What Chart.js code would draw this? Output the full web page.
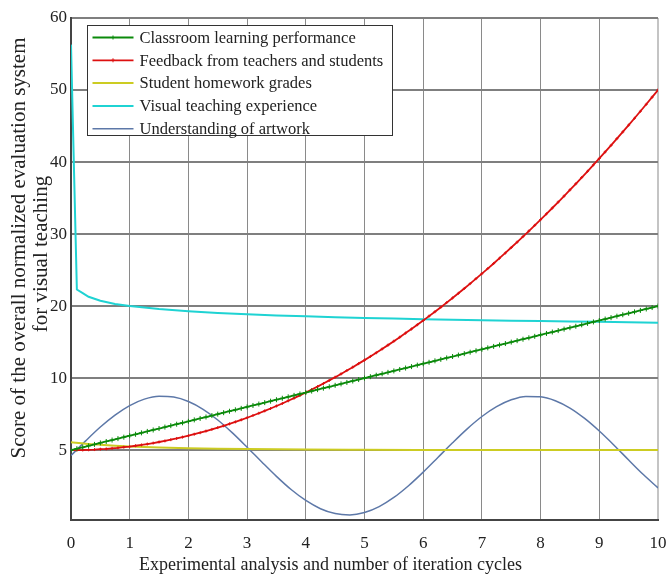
<!DOCTYPE html>
<html><head><meta charset="utf-8">
<script src="https://cdn.jsdelivr.net/npm/chart.js@4/dist/chart.umd.min.js"></script>
<style>html,body{margin:0;padding:0;background:#fff}#wrap{width:669px;height:578px}</style>
</head><body><div id="wrap"><canvas id="c" width="669" height="578"></canvas></div>
<script>
// ---- data ----
const xFine = [0,0.1,0.2,0.3,0.4,0.5,0.6,0.7,0.8,0.9,1,1.1,1.2,1.3,1.4,1.5,1.6,1.7,1.8,1.9,2,2.1,2.2,2.3,2.4,2.5,2.6,2.7,2.8,2.9,3,3.1,3.2,3.3,3.4,3.5,3.6,3.7,3.8,3.9,4,4.1,4.2,4.3,4.4,4.5,4.6,4.7,4.8,4.9,5,5.1,5.2,5.3,5.4,5.5,5.6,5.7,5.8,5.9,6,6.1,6.2,6.3,6.4,6.5,6.6,6.7,6.8,6.9,7,7.1,7.2,7.3,7.4,7.5,7.6,7.7,7.8,7.9,8,8.1,8.2,8.3,8.4,8.5,8.6,8.7,8.8,8.9,9,9.1,9.2,9.3,9.4,9.5,9.6,9.7,9.8,9.9,10];
const classroomPerformance = [0,0.2,0.4,0.6,0.8,1,1.2,1.4,1.6,1.8,2,2.2,2.4,2.6,2.8,3,3.2,3.4,3.6,3.8,4,4.2,4.4,4.6,4.8,5,5.2,5.4,5.6,5.8,6,6.2,6.4,6.6,6.8,7,7.2,7.4,7.6,7.8,8,8.2,8.4,8.6,8.8,9,9.2,9.4,9.6,9.8,10,10.2,10.4,10.6,10.8,11,11.2,11.4,11.6,11.8,12,12.2,12.4,12.6,12.8,13,13.2,13.4,13.6,13.8,14,14.2,14.4,14.6,14.8,15,15.2,15.4,15.6,15.8,16,16.2,16.4,16.6,16.8,17,17.2,17.4,17.6,17.8,18,18.2,18.4,18.6,18.8,19,19.2,19.4,19.6,19.8,20];
const feedback = [0,0.01,0.02,0.05,0.08,0.13,0.18,0.25,0.32,0.41,0.5,0.61,0.72,0.85,0.98,1.13,1.28,1.45,1.62,1.81,2,2.21,2.42,2.65,2.88,3.13,3.38,3.65,3.92,4.21,4.5,4.81,5.12,5.45,5.78,6.13,6.48,6.85,7.22,7.61,8,8.41,8.82,9.25,9.68,10.13,10.58,11.05,11.52,12.01,12.5,13.01,13.52,14.05,14.58,15.13,15.68,16.25,16.82,17.41,18,18.61,19.22,19.85,20.48,21.13,21.78,22.45,23.12,23.81,24.5,25.21,25.92,26.65,27.38,28.13,28.88,29.65,30.42,31.21,32,32.81,33.62,34.45,35.28,36.13,36.98,37.85,38.72,39.61,40.5,41.41,42.32,43.25,44.18,45.13,46.08,47.05,48.02,49.01,50];
const homeworkX = [0,0.25,0.5,0.75,1,1.5,2,2.5,3,3.5,4,5,6,7,8,9,10];
const homeworkGrades = [1.1,0.9,0.75,0.62,0.52,0.37,0.27,0.2,0.15,0.11,0.08,0.05,0.03,0.02,0.02,0.01,0.01];
const visualX = [0,0.1,0.2,0.3,0.5,0.75,1,1.5,2,2.5,3,3.5,4,4.5,5,5.5,6,6.5,7,7.5,8,8.5,9,9.5,10];
const visualExperience = [56.3,22.3,21.8,21.3,20.75,20.3,20.0,19.6,19.3,19.05,18.87,18.7,18.58,18.46,18.36,18.27,18.19,18.11,18.04,17.98,17.92,17.86,17.81,17.76,17.7];
const artworkX = [0,0.25,0.5,0.75,1,1.25,1.5,1.75,2,2.25,2.5,2.75,3,3.25,3.5,3.75,4,4.25,4.5,4.75,5,5.25,5.5,5.75,6,6.25,6.5,6.75,7,7.25,7.5,7.75,8,8.25,8.5,8.75,9,9.25,9.5,9.75,10];
const artworkUnderstanding = [-0.75,1.29,3.21,4.87,6.19,7.08,7.48,7.37,6.75,5.67,4.19,2.4,0.41,-1.64,-3.64,-5.47,-6.99,-8.13,-8.81,-8.99,-8.66,-7.84,-6.57,-4.94,-3.05,-1.02,1.02,2.96,4.67,6.04,6.99,7.46,7.41,6.86,5.84,4.4,2.65,0.69,-1.37,-3.39,-5.24];
const seriesNames = ['Classroom learning performance','Feedback from teachers and students','Student homework grades','Visual teaching experience','Understanding of artwork'];
const yTickValues = [0,10,20,30,40,50,60];
const yTickLabels = ['5','10','20','30','40','50','60'];
const xTitle = 'Experimental analysis and number of iteration cycles';
const yTitle = ['Score of the overall normalized evaluation system','for visual teaching'];

// ---- build ----
const pts = (xs, ys) => xs.map((x, i) => ({x: x, y: ys[i]}));
const FONT = "'Liberation Serif', 'Times New Roman', serif";
const colors = ['#0b8a0b','#dd1010','#cccc22','#1fd3d3','#5d78a8'];

const legendPlugin = {
  id: 'insideLegend',
  afterDatasetsDraw(chart) {
    const ctx = chart.ctx;
    const a = chart.chartArea;
    const bx = a.left + 16.5, by = a.top + 7.5, bw = 305, bh = 110;
    ctx.save();
    ctx.fillStyle = '#fff';
    ctx.fillRect(bx, by, bw, bh);
    ctx.strokeStyle = '#333';
    ctx.lineWidth = 1;
    ctx.strokeRect(bx, by, bw, bh);
    ctx.font = '16.5px ' + FONT;
    ctx.textBaseline = 'middle';
    chart.data.datasets.forEach((ds, i) => {
      const y = by + 12 + i * 22.8;
      ctx.strokeStyle = ds.borderColor;
      ctx.lineWidth = ds.borderWidth;
      ctx.beginPath(); ctx.moveTo(bx + 5, y); ctx.lineTo(bx + 46, y); ctx.stroke();
      if (ds.pointRadius > 0) {
        ctx.lineWidth = 1;
        const cx = bx + 25.5, r = 2;
        ctx.beginPath(); ctx.moveTo(cx - r, y); ctx.lineTo(cx + r, y); ctx.moveTo(cx, y - r); ctx.lineTo(cx, y + r); ctx.stroke();
      }
      ctx.fillStyle = '#222';
      ctx.fillText(ds.label, bx + 52, y + 1);
    });
    ctx.restore();
  }
};

const titlesPlugin = {
  id: 'axisTitles',
  afterDraw(chart) {
    const ctx = chart.ctx;
    ctx.save();
    ctx.fillStyle = '#222';
    ctx.textAlign = 'center';
    // y title (two rotated lines)
    ctx.font = '21px ' + FONT;
    ctx.textBaseline = 'alphabetic';
    const baselines = [24.5, 46.5];
    const centers = [248, 254];
    yTitle.forEach((t, i) => {
      ctx.save();
      ctx.translate(baselines[i], centers[i]);
      ctx.rotate(-Math.PI / 2);
      ctx.fillText(t, 0, 0);
      ctx.restore();
    });
    // x title, centred on the figure
    ctx.font = '18px ' + FONT;
    ctx.textBaseline = 'middle';
    ctx.fillText(xTitle, chart.width / 2 - 4, 565);
    ctx.restore();
  }
};

const datasets = [
  {label: seriesNames[0], data: pts(xFine, classroomPerformance), borderColor: colors[0], backgroundColor: colors[0], borderWidth: 1.8, pointStyle: 'cross', pointRadius: 2.5, pointBorderWidth: 1, tension: 0},
  {label: seriesNames[1], data: pts(xFine, feedback), borderColor: colors[1], backgroundColor: colors[1], borderWidth: 1.8, pointStyle: 'cross', pointRadius: 1.5, pointBorderWidth: 1, tension: 0},
  {label: seriesNames[2], data: pts(homeworkX, homeworkGrades), borderColor: colors[2], borderWidth: 2, pointRadius: 0, cubicInterpolationMode: 'monotone'},
  {label: seriesNames[3], data: pts(visualX, visualExperience), borderColor: colors[3], borderWidth: 2, pointRadius: 0, tension: 0},
  {label: seriesNames[4], data: pts(artworkX, artworkUnderstanding), borderColor: colors[4], borderWidth: 1.5, pointRadius: 0, cubicInterpolationMode: 'monotone'}
];

new Chart(document.getElementById('c'), {
  type: 'line',
  data: {datasets: datasets},
  plugins: [legendPlugin, titlesPlugin],
  options: {
    responsive: false,
    animation: false,
    devicePixelRatio: 1,
    layout: {padding: {left: 0, right: 11, top: 18, bottom: 0}},
    plugins: {legend: {display: false}, tooltip: {enabled: false}},
    scales: {
      x: {
        type: 'linear', min: 0, max: 10,
        ticks: {stepSize: 1, padding: 13, color: '#222', font: {family: FONT, size: 17}, callback: v => String(v), maxRotation: 0},
        grid: {
          color: c => (c.tick && c.tick.value === 10) ? '#c4c4c4' : '#8a8a8a',
          lineWidth: c => (c.tick && c.tick.value === 10) ? 2 : 1,
          drawTicks: false
        },
        border: {display: true, color: '#444', width: 2},
        title: {display: false},
        afterFit: s => { s.height = 58; s.paddingLeft = 0; s.paddingRight = 0; }
      },
      y: {
        type: 'linear', min: -9.7, max: 60,
        afterBuildTicks: s => { s.ticks = yTickValues.map(v => ({value: v})); },
        ticks: {padding: 4, color: '#222', font: {family: FONT, size: 17}, callback: v => yTickLabels[yTickValues.indexOf(v)]},
        grid: {color: '#7f7f7f', lineWidth: 2, drawTicks: false},
        border: {display: true, color: '#444', width: 2},
        title: {display: false},
        afterFit: s => { s.width = 71; s.paddingTop = 0; s.paddingBottom = 0; }
      }
    }
  }
});
</script></body></html>
